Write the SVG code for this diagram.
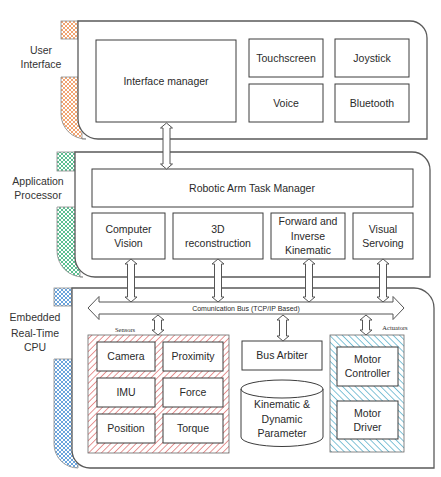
<svg xmlns="http://www.w3.org/2000/svg" width="441" height="477" viewBox="0 0 441 477">
  <defs>
    <pattern id="xhatch-orange" width="4" height="4" patternUnits="userSpaceOnUse">
      <path d="M0,0 L4,4 M4,0 L0,4" stroke="#ee9a62" stroke-width="0.9" fill="none"/>
    </pattern>
    <pattern id="xhatch-green" width="4" height="4" patternUnits="userSpaceOnUse">
      <path d="M0,0 L4,4 M4,0 L0,4" stroke="#48b884" stroke-width="0.9" fill="none"/>
    </pattern>
    <pattern id="xhatch-blue" width="4" height="4" patternUnits="userSpaceOnUse">
      <path d="M0,0 L4,4 M4,0 L0,4" stroke="#5a9ad8" stroke-width="0.9" fill="none"/>
    </pattern>
    <pattern id="stripe-red" width="4.5" height="4.5" patternUnits="userSpaceOnUse" patternTransform="rotate(45)">
      <line x1="0" y1="0" x2="0" y2="4.5" stroke="#dc6a6a" stroke-width="1.4"/>
    </pattern>
    <pattern id="stripe-teal" width="4.5" height="4.5" patternUnits="userSpaceOnUse" patternTransform="rotate(-45)">
      <line x1="0" y1="0" x2="0" y2="4.5" stroke="#4eaac6" stroke-width="1.4"/>
    </pattern>
  </defs>
  <style>
    .panel { fill: #ffffff; stroke: #5a5a5a; stroke-width: 1.3; }
    .tab { stroke: #8a8a8a; stroke-width: 0.8; }
    .box { fill: #ffffff; stroke: #3c3c3c; stroke-width: 1; }
    .arrow { fill: #ffffff; stroke: #555555; stroke-width: 1; stroke-linejoin: miter; }
    text { font-family: "Liberation Sans", Arial, sans-serif; font-size: 10.5px; fill: #2a2a2a; text-anchor: middle; }
    .layer { font-size: 10.5px; fill: #333333; }
    .small { font-family: "Liberation Serif", "Times New Roman", serif; font-size: 6.5px; }
    .bus { font-size: 7px; }
  </style>

  <rect width="441" height="477" fill="#ffffff"/>

  <!-- User interface layer -->
  <g id="layer-user-interface">
    <rect class="tab" x="61" y="21" width="17" height="18" fill="url(#xhatch-orange)"/>
    <path class="tab" d="M61,77 H82 V139 H86 A25,25 0 0 1 61,114 Z" fill="url(#xhatch-orange)"/>
    <path class="panel" d="M78,21 H410 A17,17 0 0 1 427,38 V139 H98 A20,20 0 0 1 78,119 Z"/>
    <text class="layer" x="41" y="54">User</text>
    <text class="layer" x="41" y="68">Interface</text>
  </g>
  <g id="interface-manager">
    <rect class="box" x="96" y="40" width="140" height="82"/>
    <text x="166" y="85">Interface manager</text>
  </g>
  <g id="touchscreen">
    <rect class="box" x="249" y="39" width="74" height="38"/>
    <text x="286" y="61.5">Touchscreen</text>
  </g>
  <g id="joystick">
    <rect class="box" x="335" y="39" width="74" height="38"/>
    <text x="372" y="61.5">Joystick</text>
  </g>
  <g id="voice">
    <rect class="box" x="249" y="84" width="74" height="38"/>
    <text x="286" y="106.5">Voice</text>
  </g>
  <g id="bluetooth">
    <rect class="box" x="335" y="84" width="74" height="38"/>
    <text x="372" y="106.5">Bluetooth</text>
  </g>

  <!-- Application processor layer -->
  <g id="layer-application-processor">
    <rect class="tab" x="57" y="152" width="18" height="19" fill="url(#xhatch-green)"/>
    <path class="tab" d="M57,207 H80 V277 H83 A26,26 0 0 1 57,251 Z" fill="url(#xhatch-green)"/>
    <path class="panel" d="M75,152 H412 A18,18 0 0 1 430,170 V277 H95 A20,20 0 0 1 75,257 Z"/>
    <text class="layer" x="38" y="185">Application</text>
    <text class="layer" x="38" y="199">Processor</text>
  </g>
  <g id="task-manager">
    <rect class="box" x="92" y="169" width="321" height="38"/>
    <text x="252" y="191.5">Robotic Arm Task Manager</text>
  </g>
  <g id="computer-vision">
    <rect class="box" x="92" y="213" width="73" height="46"/>
    <text x="128.5" y="233">Computer</text>
    <text x="128.5" y="247">Vision</text>
  </g>
  <g id="reconstruction-3d">
    <rect class="box" x="173" y="213" width="90" height="46"/>
    <text x="218" y="233">3D</text>
    <text x="218" y="247">reconstruction</text>
  </g>
  <g id="kinematics">
    <rect class="box" x="271" y="213" width="74" height="46"/>
    <text x="308" y="225">Forward and</text>
    <text x="308" y="239.5">Inverse</text>
    <text x="308" y="254">Kinematic</text>
  </g>
  <g id="visual-servoing">
    <rect class="box" x="353" y="213" width="60" height="46"/>
    <text x="383" y="233">Visual</text>
    <text x="383" y="247">Servoing</text>
  </g>

  <!-- Embedded real-time CPU layer -->
  <g id="layer-embedded-cpu">
    <rect class="tab" x="54" y="288" width="18" height="18" fill="url(#xhatch-blue)"/>
    <path class="tab" d="M54,359 H78 V468 H78 A24,24 0 0 1 54,444 Z" fill="url(#xhatch-blue)"/>
    <path class="panel" d="M72,288 H414 A20,20 0 0 1 434,308 V468 H90 A18,18 0 0 1 72,450 Z"/>
    <text class="layer" x="35" y="321">Embedded</text>
    <text class="layer" x="35" y="336.5">Real-Time</text>
    <text class="layer" x="35" y="351">CPU</text>
  </g>
  <g id="sensors">
    <rect x="88" y="335" width="141" height="118" fill="url(#stripe-red)" stroke="#666666" stroke-width="0.8"/>
    <text class="small" x="125" y="332">Sensors</text>
  </g>
  <g id="camera">
    <rect class="box" x="97" y="342" width="58" height="29"/>
    <text x="126" y="360">Camera</text>
  </g>
  <g id="proximity">
    <rect class="box" x="163" y="342" width="60" height="29"/>
    <text x="193" y="360">Proximity</text>
  </g>
  <g id="imu">
    <rect class="box" x="97" y="378" width="58" height="29"/>
    <text x="126" y="396">IMU</text>
  </g>
  <g id="force">
    <rect class="box" x="163" y="378" width="60" height="29"/>
    <text x="193" y="396">Force</text>
  </g>
  <g id="position">
    <rect class="box" x="97" y="414" width="58" height="29"/>
    <text x="126" y="432">Position</text>
  </g>
  <g id="torque">
    <rect class="box" x="163" y="414" width="60" height="29"/>
    <text x="193" y="432">Torque</text>
  </g>
  <g id="bus-arbiter">
    <rect class="box" x="242" y="341" width="80" height="29"/>
    <text x="282" y="359">Bus Arbiter</text>
  </g>
  <g id="parameters">
    <path class="box" d="M241,389 A41,9 0 0 1 323,389 V437 A41,9.5 0 0 1 241,437 Z"/>
    <path d="M241,389 A41,9 0 0 0 323,389" fill="none" stroke="#3c3c3c" stroke-width="1"/>
    <text x="282" y="408">Kinematic &amp;</text>
    <text x="282" y="423">Dynamic</text>
    <text x="282" y="437">Parameter</text>
  </g>
  <g id="actuators">
    <rect x="330" y="335" width="74" height="117" fill="url(#stripe-teal)" stroke="#666666" stroke-width="0.8"/>
    <text class="small" x="395" y="330">Actuators</text>
  </g>
  <g id="motor-controller">
    <rect class="box" x="337" y="347" width="61" height="39"/>
    <text x="367.5" y="363">Motor</text>
    <text x="367.5" y="377">Controller</text>
  </g>
  <g id="motor-driver">
    <rect class="box" x="337" y="401" width="61" height="38"/>
    <text x="367.5" y="416.5">Motor</text>
    <text x="367.5" y="431">Driver</text>
  </g>

  <!-- Connectors: hollow double-headed block arrows -->
  <g id="connectors">
    <path class="arrow" d="M166.5,123 L172.5,128 H170 V164 H172.5 L166.5,169 L160.5,164 H163 V128 H160.5 Z"/>
    <path class="arrow" d="M131,259 L137,264 H134.5 V297 H137 L131,302 L125,297 H127.5 V264 H125 Z"/>
    <path class="arrow" d="M218,259 L224,264 H221.5 V297 H224 L218,302 L212,297 H214.5 V264 H212 Z"/>
    <path class="arrow" d="M309,259 L315,264 H312.5 V297 H315 L309,302 L303,297 H305.5 V264 H303 Z"/>
    <path class="arrow" d="M383,259 L389,264 H386.5 V297 H389 L383,302 L377,297 H379.5 V264 H377 Z"/>
    <path class="arrow" d="M88,308 L99,296.5 V302 H393 V296.5 L404,308 L393,319.5 V314 H99 V319.5 Z"/>
    <path class="arrow" d="M158,315 L164,320 H161.5 V330 H164 L158,335 L152,330 H154.5 V320 H152 Z"/>
    <path class="arrow" d="M283,315 L289,320 H286.5 V336 H289 L283,341 L277,336 H279.5 V320 H277 Z"/>
    <path class="arrow" d="M366,315 L372,320 H369.5 V330 H372 L366,335 L360,330 H362.5 V320 H360 Z"/>
    <text class="bus" x="246" y="310.5">Comunication Bus (TCP/IP Based)</text>
  </g>
</svg>
